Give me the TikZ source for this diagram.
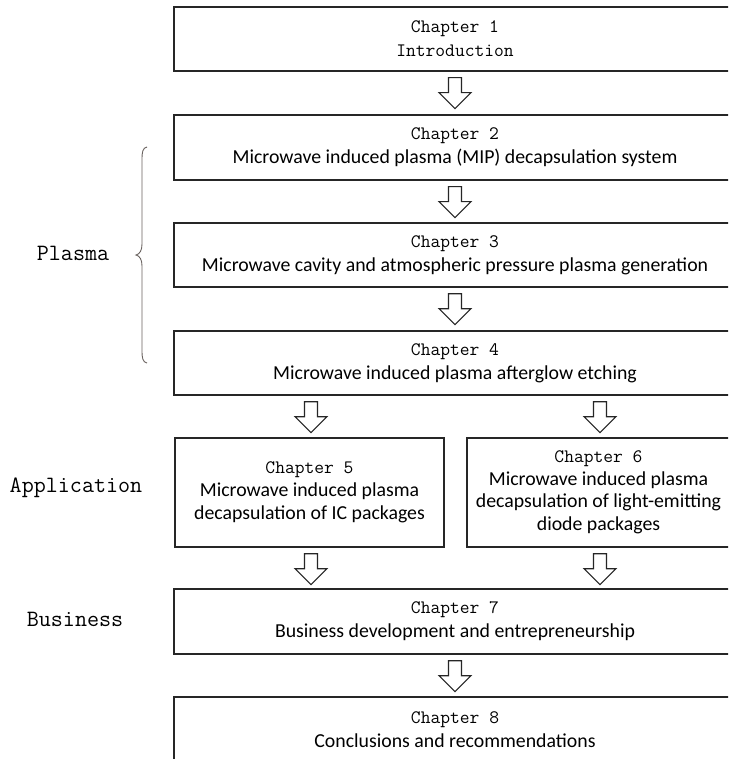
\documentclass[tikz,border=0pt]{standalone}
\usepackage{fontspec}
\setsansfont{Carlito}
\newfontfamily\chapmono{Latin Modern Mono}
\usetikzlibrary{calc}
\newcommand\cfnt{\chapmono\fontsize{19}{24}\selectfont}
\newcommand\dfnt{\sffamily\fontsize{19.8}{24}\selectfont}
\newcommand\lfnt{\chapmono\fontsize{23.4}{28}\selectfont}
\tikzset{
  box/.style={draw=black!85, line width=1.4pt, fill=white, align=center, inner sep=0pt,
    font=\fontsize{19.8}{24}\selectfont},
  tightbox/.style={box, font=\fontsize{19.8}{23}\selectfont},
  tighterbox/.style={box, font=\fontsize{19.8}{22.5}\selectfont},
  arrowline/.style={draw=black!85, line width=1.1pt, fill=white, line join=miter},
  barrow/.pic={\path[arrowline] (-6.5,0) -- (-6.5,15) -- (-16,15) -- (0,31) -- (16,15) -- (6.5,15) -- (6.5,0) -- cycle;},
  sidelabel/.style={font=\lfnt, inner sep=0pt},
  bracestyle/.style={draw={rgb,255:red,105;green,98;blue,95}, line width=0.9pt}
}
\begin{document}
\begin{tikzpicture}[x=1pt, y=-1pt]
\useasboundingbox (0,0) rectangle (728,759);
\clip (0,0) rectangle (728,759);
\fill[white] (0,0) rectangle (728,759);
% boxes
\node[box, minimum width=562, minimum height=64] (b1) at (455,39)
  {{\cfnt Chapter 1}\\{\cfnt Introduction}};
\node[box, minimum width=562, minimum height=65] (b2) at (455,147.5)
  {{\cfnt Chapter 2}\\{\dfnt Microwave induced plasma (MIP) decapsulation system}};
\node[box, minimum width=562, minimum height=64] (b3) at (455,255)
  {{\cfnt Chapter 3}\\{\dfnt Microwave cavity and atmospheric pressure plasma generation}};
\node[box, minimum width=562, minimum height=64] (b4) at (455,363)
  {{\cfnt Chapter 4}\\{\dfnt Microwave induced plasma afterglow etching}};
\node[tightbox, minimum width=269, minimum height=109] (b5) at (309.5,492.5)
  {{\cfnt Chapter 5}\\{\dfnt Microwave induced plasma}\\{\dfnt decapsulation of IC packages}};
\node[tighterbox, minimum width=263, minimum height=109] (b6) at (598.5,492.5)
  {{\cfnt Chapter 6}\\{\dfnt Microwave induced plasma}\\{\dfnt decapsulation of light-emitting}\\{\dfnt diode packages}};
\node[box, minimum width=562, minimum height=65] (b7) at (455,621.5)
  {{\cfnt Chapter 7}\\{\dfnt Business development and entrepreneurship}};
\node[box, minimum width=562, minimum height=65] (b8) at (455,729.5)
  {{\cfnt Chapter 8}\\{\dfnt Conclusions and recommendations}};
% block arrows
\pic at ($(b1.south)+(0,6)$) {barrow};
\pic at ($(b2.south)+(0,6)$) {barrow};
\pic at ($(b3.south)+(0,6)$) {barrow};
\pic at ($(b4.south -| b5.north)+(1.5,6)$) {barrow};
\pic at ($(b4.south -| b6.north)+(1.5,6)$) {barrow};
\pic at ($(b5.south)+(1.5,6)$) {barrow};
\pic at ($(b6.south)+(1.5,6)$) {barrow};
\pic at ($(b7.south)+(0,6)$) {barrow};
% side labels
\node[sidelabel] (lp) at (73,253) {Plasma};
\node[sidelabel] (la) at (76,488) {Application};
\node[sidelabel] (lb) at (75,619) {Business};
% brace
\coordinate (brtop) at (147,147);
\coordinate (brtip) at (136,255);
\coordinate (brbot) at (147,363);
\path[bracestyle] (brtop) .. controls (142.5,148) and (142,152) .. (142,160)
  -- (142,244) .. controls (142,250) and (140,254) .. (brtip)
  .. controls (140,256) and (142,260) .. (142,266)
  -- (142,350) .. controls (142,358) and (142.5,362) .. (brbot);
\end{tikzpicture}
\end{document}
